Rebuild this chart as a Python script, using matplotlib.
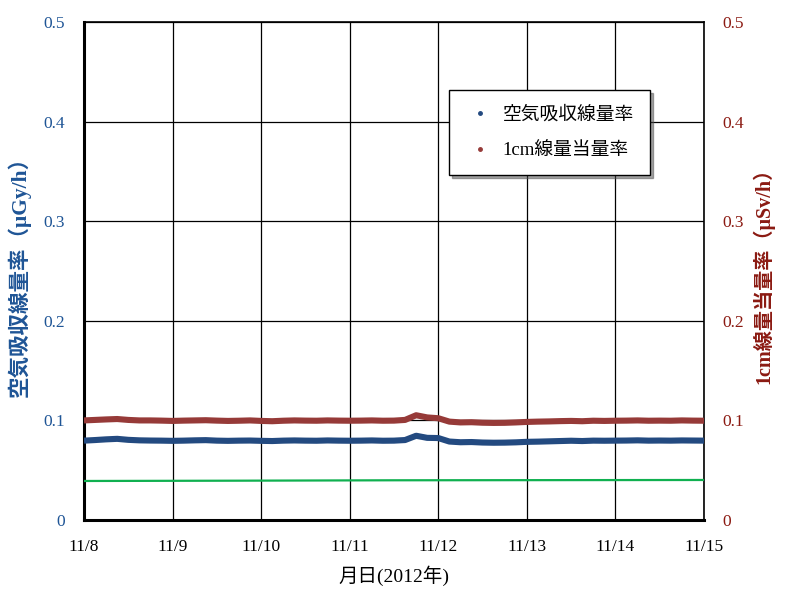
import matplotlib
matplotlib.use("Agg")
import matplotlib.pyplot as plt
from matplotlib.lines import Line2D
import pandas as pd

plt.rcParams['font.family'] = ['Liberation Serif', 'Noto Sans CJK JP', 'DejaVu Sans']

# ==============================
# DATA (3-hourly readings, 11/8 00:00 - 11/15 00:00)
# ==============================

times = pd.date_range("2012-11-08 00:00", "2012-11-15 00:00", freq="3h")

air_dose = [
    0.0797, 0.0803, 0.0810, 0.0815, 0.0805, 0.0800, 0.0798, 0.0797,
    0.0795, 0.0797, 0.0800, 0.0802, 0.0797, 0.0795, 0.0797, 0.0798,
    0.0795, 0.0793, 0.0797, 0.0799, 0.0797, 0.0796, 0.0799, 0.0797,
    0.0796, 0.0797, 0.0799, 0.0796, 0.0797, 0.0803, 0.0846, 0.0825,
    0.0823, 0.0788, 0.0781, 0.0783, 0.0778, 0.0776, 0.0777, 0.0780,
    0.0785, 0.0787, 0.0790, 0.0793, 0.0796, 0.0793, 0.0797, 0.0796,
    0.0797, 0.0798, 0.0800, 0.0797, 0.0798, 0.0797, 0.0799, 0.0798,
    0.0797,
]

dose_1cm = [
    0.1000, 0.1005, 0.1010, 0.1014, 0.1005, 0.1000, 0.1000, 0.0998,
    0.0995, 0.0998, 0.1000, 0.1002, 0.0998, 0.0995, 0.0997, 0.1000,
    0.0995, 0.0992, 0.0997, 0.1000, 0.0998, 0.0997, 0.1000, 0.0998,
    0.0997, 0.0998, 0.1000, 0.0997, 0.0998, 0.1005, 0.1052, 0.1030,
    0.1022, 0.0988, 0.0980, 0.0982, 0.0977, 0.0975, 0.0976, 0.0980,
    0.0985, 0.0988, 0.0990, 0.0993, 0.0995, 0.0992, 0.0997, 0.0995,
    0.0997, 0.0998, 0.1000, 0.0997, 0.0998, 0.0997, 0.1000, 0.0998,
    0.0997,
]

green_times = pd.to_datetime(["2012-11-08 00:00", "2012-11-09 18:00",
                              "2012-11-11 12:00", "2012-11-15 00:00"])
green_vals = [0.0392, 0.0395, 0.0399, 0.0402]

day_ticks = pd.date_range("2012-11-08", "2012-11-15", freq="D")
day_labels = ["11/8", "11/9", "11/10", "11/11", "11/12", "11/13", "11/14", "11/15"]
y_ticks = [0, 0.1, 0.2, 0.3, 0.4, 0.5]
y_labels = ["0", "0.1", "0.2", "0.3", "0.4", "0.5"]

BLUE = "#234a80"
RED = "#963a38"
GREEN = "#10b050"
LBLUE = "#1f5596"
LRED = "#8b1a12"

# ==============================
# CHART
# ==============================

fig = plt.figure(figsize=(7.85, 5.9), dpi=100)
ax = fig.add_axes([0.107, 0.1186, 0.7898, 0.8441])

ax.plot(green_times, green_vals, color=GREEN, lw=1.6, zorder=3)
ax.plot(times, air_dose, color=BLUE, lw=4.4, zorder=4, solid_capstyle="butt")
ax.plot(times, dose_1cm, color=RED, lw=4.4, zorder=4, solid_capstyle="butt")

ax.set_xlim(day_ticks[0], day_ticks[-1])
ax.set_ylim(0, 0.5)
ax.set_xticks(day_ticks)
ax.set_xticklabels(day_labels, fontsize=12.5)
ax.set_yticks(y_ticks)
ax.set_yticklabels(y_labels, fontsize=12.5, color=LBLUE)
ax.tick_params(axis="x", length=0, pad=14)
ax.tick_params(axis="y", length=0, pad=14)
ax.grid(True, color="black", lw=0.9)
ax.set_axisbelow(True)
for side in ["left", "bottom"]:
    ax.spines[side].set_linewidth(2.2)
for side in ["top", "right"]:
    ax.spines[side].set_linewidth(1.2)

ax2 = ax.twinx()
ax2.set_ylim(0, 0.5)
ax2.set_yticks(y_ticks)
ax2.set_yticklabels(y_labels, fontsize=12.5, color=LRED)
ax2.tick_params(length=0, pad=13)
for s in ax2.spines.values():
    s.set_visible(False)

ax.set_xlabel("月日(2012年)", fontsize=14, labelpad=7)
ax.set_ylabel("空気吸収線量率（μGy/h）", fontsize=15.5, color=LBLUE,
              fontweight="bold", labelpad=9)
ax2.set_ylabel("1cm線量当量率（μSv/h）", fontsize=14.5, color=LRED,
               fontweight="bold", labelpad=6)

handles = [
    Line2D([], [], ls="none", marker="o", ms=2.5, color=BLUE),
    Line2D([], [], ls="none", marker="o", ms=2.5, color=RED),
]
leg = ax.legend(handles, ["空気吸収線量率", "1cm線量当量率"],
                loc="upper left", bbox_to_anchor=(0.589, 0.864),
                fontsize=13.5, frameon=True, fancybox=False, shadow=True,
                edgecolor="black", framealpha=1, borderpad=0.85,
                labelspacing=1.0, handlelength=1.6, handletextpad=0.4,
                borderaxespad=0)
leg.get_frame().set_linewidth(1.0)
leg.set_zorder(10)

fig.savefig("out.png", dpi=100)
plt.close(fig)
